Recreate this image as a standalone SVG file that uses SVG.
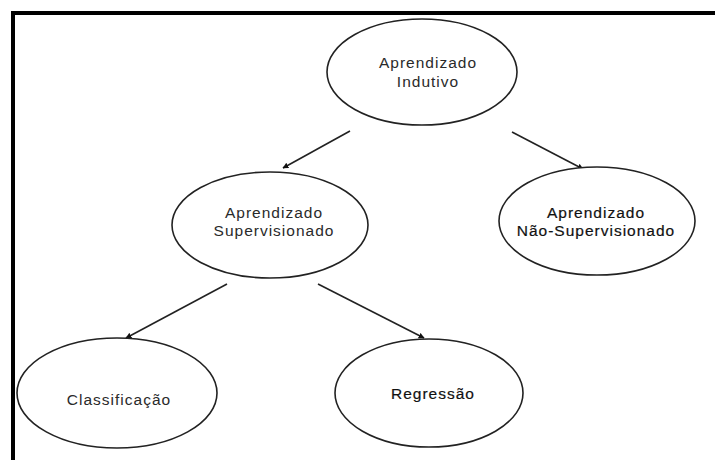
<svg xmlns="http://www.w3.org/2000/svg" width="715" height="460" viewBox="0 0 715 460">
<style>
.node ellipse{fill:#fff;stroke:#222;stroke-width:1.6}
.node text{font-family:"Liberation Sans",Arial,sans-serif;font-size:15.5px;letter-spacing:1px;fill:#2a2a2a;text-anchor:middle}
.node text.dark{fill:#111;stroke:#111;stroke-width:0.2}
.conn line{stroke:#222;stroke-width:1.6;marker-end:url(#ah)}
</style>
<defs>
<marker id="ah" viewBox="0 0 10 10" refX="9" refY="5" markerWidth="6" markerHeight="6" markerUnits="userSpaceOnUse" orient="auto">
<path d="M0,0 L10,5 L0,10 z" fill="#111"/>
</marker>
</defs>
<rect width="715" height="460" fill="#fff"/>
<g id="frame">
<line x1="11" y1="13" x2="715" y2="13" stroke="#000" stroke-width="4"/>
<line x1="13" y1="11" x2="13" y2="460" stroke="#000" stroke-width="4"/>
</g>
<g class="conn" id="connectors">
<line x1="350" y1="131" x2="283" y2="168"/>
<line x1="512" y1="132" x2="583" y2="169"/>
<line x1="227" y1="284" x2="126" y2="338"/>
<line x1="318" y1="284" x2="424" y2="338"/>
</g>
<g class="node" id="indutivo">
<ellipse cx="422" cy="72" rx="95" ry="53"/>
<text x="428" y="68">Aprendizado</text>
<text x="428" y="87">Indutivo</text>
</g>
<g class="node" id="supervisionado">
<ellipse cx="270" cy="225" rx="98" ry="53"/>
<text x="274" y="218">Aprendizado</text>
<text x="274" y="236">Supervisionado</text>
</g>
<g class="node" id="nao-supervisionado">
<ellipse cx="597" cy="221" rx="98" ry="54"/>
<text class="dark" x="596" y="218">Aprendizado</text>
<text class="dark" x="596" y="236">Não-Supervisionado</text>
</g>
<g class="node" id="classificacao">
<ellipse cx="117" cy="393" rx="100" ry="55"/>
<text x="119" y="405">Classificação</text>
</g>
<g class="node" id="regressao">
<ellipse cx="429" cy="393" rx="94" ry="54"/>
<text class="dark" x="433" y="399">Regressão</text>
</g>
</svg>
